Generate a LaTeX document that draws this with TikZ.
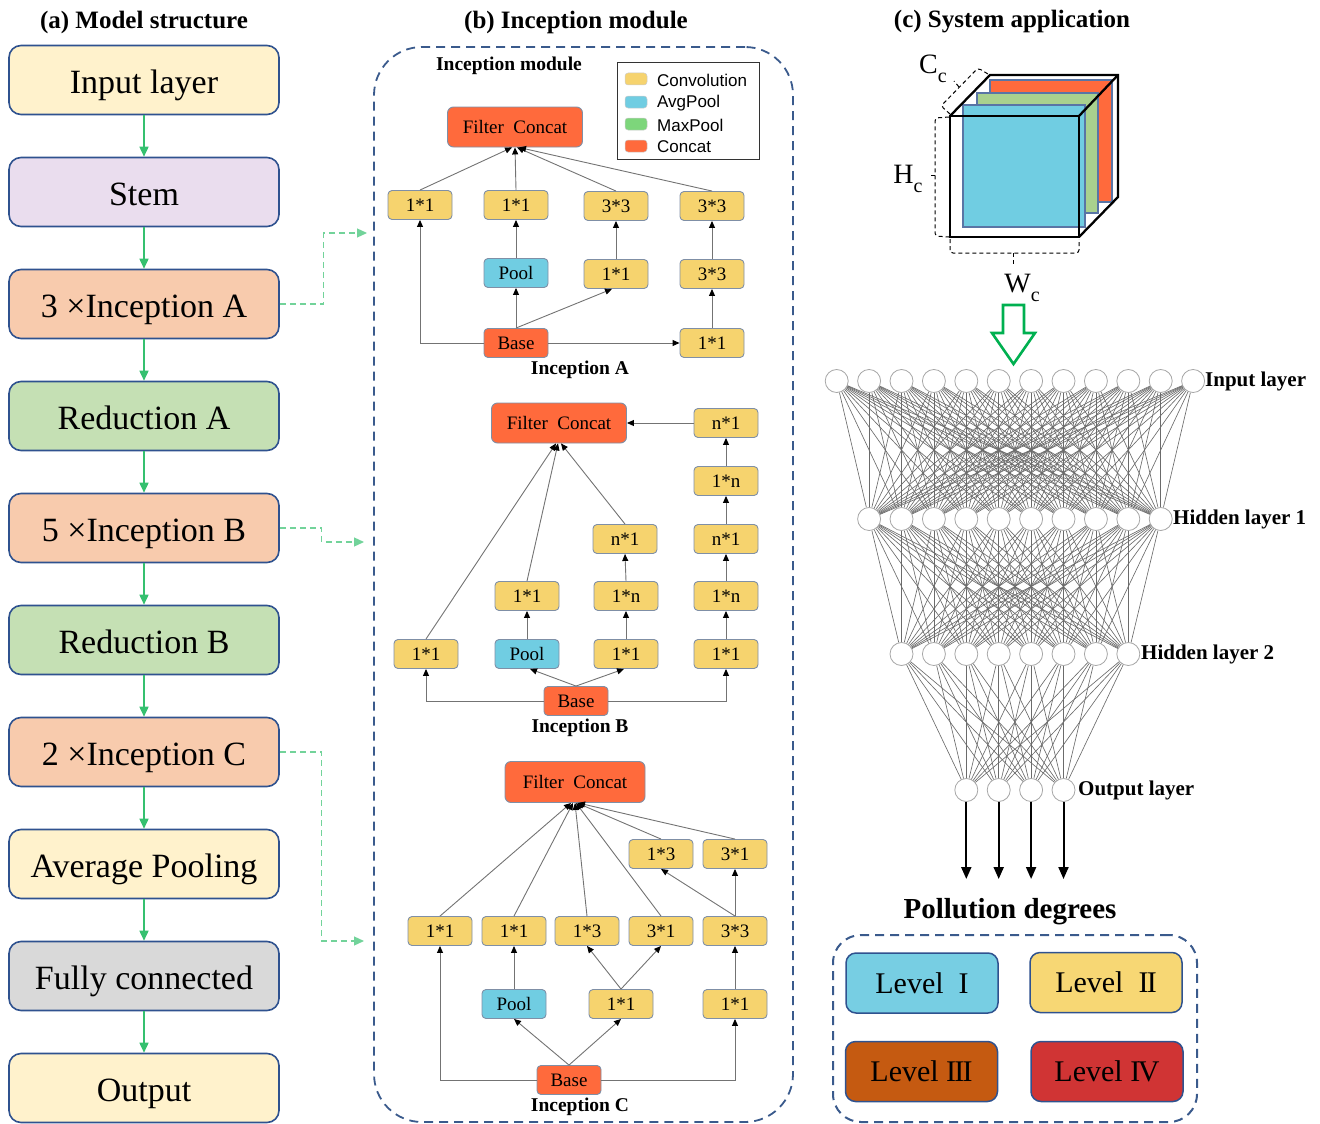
\documentclass[tikz,border=0pt]{standalone}
\usepackage{fontspec}
\setmainfont{Liberation Serif}
\newfontfamily\legfont{Liberation Sans}
\usetikzlibrary{arrows.meta,calc}
\definecolor{bord}{HTML}{2F528F}
\definecolor{inyel}{HTML}{FFF2CC}
\definecolor{stemc}{HTML}{EADDEE}
\definecolor{incpe}{HTML}{F8CBAD}
\definecolor{redg}{HTML}{C5E0B4}
\definecolor{fcgray}{HTML}{D9D9D9}
\definecolor{flowg}{HTML}{35C06F}
\definecolor{dashb}{HTML}{3A5A8C}
\definecolor{convy}{HTML}{F6D36E}
\definecolor{poolb}{HTML}{70CDE2}
\definecolor{concr}{HTML}{FF6A3C}
\definecolor{mbord}{HTML}{7F8FA6}
\definecolor{maxg}{HTML}{7DD67B}
\definecolor{layg}{HTML}{A9D18E}
\definecolor{arrg}{HTML}{00B050}
\definecolor{lv1}{HTML}{77CEE3}
\definecolor{lv2}{HTML}{F7D774}
\definecolor{lv3}{HTML}{C55A11}
\definecolor{lv4}{HTML}{D03434}
\newcommand{\rmtwo}{I\kern-0.06em I}
\newcommand{\rmthree}{I\kern-0.06em I\kern-0.06em I}
\newcommand{\rmfour}{I\kern-0.08em V}
\begin{document}
\begin{tikzpicture}[x=1pt,y=-1pt,
  mainbox/.style={draw=bord, line width=1.6pt, rounded corners=12pt, minimum width=270pt, minimum height=69pt, inner sep=0pt, text height=30pt, text depth=4pt, font=\fontsize{34}{36}\selectfont},
  flow/.style={draw=flowg, line width=1.6pt, -{Triangle[length=10pt,width=9pt]}},
  link/.style={draw=flowg!70, line width=1.2pt, dash pattern=on 6pt off 4pt, -{Triangle[length=10pt,width=9pt]}},
  mb/.style={draw=mbord, line width=0.9pt, rounded corners=4pt, minimum width=64pt, minimum height=29pt, inner sep=0pt, font=\fontsize{19}{20}\selectfont},
  conv/.style={mb, fill=convy},
  pool/.style={mb, fill=poolb},
  cat/.style={mb, fill=concr},
  fcat/.style={cat, minimum width=135pt, minimum height=40pt, rounded corners=6pt, font=\fontsize{19}{20}\selectfont},
  ar/.style={draw=black!55, line width=0.9pt, -{Triangle[length=7pt,width=6pt,color=black]}},
  title/.style={font=\bfseries\fontsize{25}{28}\selectfont},
  sublab/.style={font=\bfseries\fontsize{19.5}{22}\selectfont},
  sw/.style={draw=white!80!black, line width=0.5pt, rounded corners=3pt, minimum width=22pt, minimum height=12pt, inner sep=0pt},
  legt/.style={anchor=west, font=\legfont\fontsize{17}{19}\selectfont, inner sep=0pt},
  neuron/.style={circle, draw=black!35, fill=white, line width=0.8pt, minimum size=23pt, inner sep=0pt},
  syn/.style={draw=black!58, line width=0.65pt},
  nnlab/.style={anchor=west, inner sep=0pt, font=\bfseries\fontsize{21}{23}\selectfont},
  outar/.style={draw=black, line width=2pt, -{Triangle[length=12pt,width=10pt]}},
  lvl/.style={draw=bord, line width=1.5pt, rounded corners=10pt, minimum width=152pt, minimum height=60pt, inner sep=0pt, text height=24pt, text depth=4pt, font=\fontsize{30}{32}\selectfont},
  dbrk/.style={draw=black, line width=1pt, dash pattern=on 4pt off 3pt, rounded corners=3pt},
  cubel/.style={font=\fontsize{28}{30}\selectfont, inner sep=0pt}
]
\useasboundingbox (0,0) rectangle (1320,1124);

% ---------- titles
\node[title] (ta) at (144,22) {(a) Model structure};
\node[title] (tb) at (576,22) {(b) Inception module};
\node[title] (tc) at (1012,22) {(c) System application};

% ---------- (a) left column
\node[mainbox, fill=inyel] (a1) at (144,80) {Input layer};
\node[mainbox, fill=stemc] (a2) at (144,192) {Stem};
\node[mainbox, fill=incpe] (a3) at (144,304) {3 ×Inception A};
\node[mainbox, fill=redg] (a4) at (144,416) {Reduction A};
\node[mainbox, fill=incpe] (a5) at (144,528) {5 ×Inception B};
\node[mainbox, fill=redg] (a6) at (144,640) {Reduction B};
\node[mainbox, fill=incpe] (a7) at (144,752) {2 ×Inception C};
\node[mainbox, fill=inyel] (a8) at (144,864) {Average Pooling};
\node[mainbox, fill=fcgray] (a9) at (144,976) {Fully connected};
\node[mainbox, fill=inyel] (a10) at (144,1088) {Output};
\draw[flow] (a1) -- (a2);
\draw[flow] (a2) -- (a3);
\draw[flow] (a3) -- (a4);
\draw[flow] (a4) -- (a5);
\draw[flow] (a5) -- (a6);
\draw[flow] (a6) -- (a7);
\draw[flow] (a7) -- (a8);
\draw[flow] (a8) -- (a9);
\draw[flow] (a9) -- (a10);

\coordinate (mA) at (367,233);
\coordinate (mB) at (364,542);
\coordinate (mC) at (364,941);
\draw[link] (a3.east) -- ++(44,0) |- (mA);
\draw[link] (a5.east) -- ++(42,0) |- (mB);
\draw[link] (a7.east) -- ++(42,0) |- (mC);

% ---------- (b) module frame
\node[draw=dashb, line width=1.8pt, dash pattern=on 9pt off 6pt, rounded corners=48pt, minimum width=419pt, minimum height=1075pt, inner sep=0pt] (mod) at (583.5,584.5) {};
\node[sublab] (modt) at (509,66) {Inception module};

% legend
\node[draw=black!80, line width=1pt, minimum width=142pt, minimum height=96pt, inner sep=0pt] (leg) at (688,111) {};
\node[sw, fill=convy] (s1) at (636,79) {};
\node[sw, fill=poolb] (s2) at (636,102) {};
\node[sw, fill=maxg] (s3) at (636,124) {};
\node[sw, fill=concr] (s4) at (636,146) {};
\node[legt] (l1) at (657,80) {Convolution};
\node[legt] (l2) at (657,103) {AvgPool};
\node[legt] (l3) at (657,125) {MaxPool};
\node[legt] (l4) at (657,147) {Concat};

% Inception A
\node[fcat] (AFC) at (515,127) {Filter\enspace Concat};
\node[conv] (A11) at (420,205) {1*1};
\node[conv] (A12) at (516,205) {1*1};
\node[conv] (A13) at (616,206) {3*3};
\node[conv] (A14) at (712,206) {3*3};
\node[pool] (Apool) at (516,273) {Pool};
\node[conv] (A22) at (616,274) {1*1};
\node[conv] (A23) at (712,274) {3*3};
\node[cat] (Abase) at (516,343) {Base};
\node[conv] (A31) at (712,343) {1*1};
\node[sublab] (Alab) at (580,370) {Inception A};
\draw[ar] (A11.north) -- ($(AFC.south)+(-3,0)$);
\draw[ar] (A12.north) -- ($(AFC.south)+(0,0)$);
\draw[ar] (A13.north) -- ($(AFC.south)+(2,0)$);
\draw[ar] (A14.north) -- ($(AFC.south)+(4,0)$);
\draw[ar] (Abase.west) -| (A11.south);
\draw[ar] (Abase.north) -- (Apool.south);
\draw[ar] (Abase.north) -- ($(A22.south)+(-4,0)$);
\draw[ar] (Abase.east) -- (A31.west);
\draw[ar] (Apool.north) -- (A12.south);
\draw[ar] (A22.north) -- (A13.south);
\draw[ar] (A31.north) -- (A23.south);
\draw[ar] (A23.north) -- (A14.south);

% Inception B
\node[fcat] (BFC) at (559,423) {Filter\enspace Concat};
\node[conv] (Bt) at (726,423) {n*1};
\node[conv] (B2) at (726,481) {1*n};
\node[conv] (B3r) at (726,539) {n*1};
\node[conv] (B3m) at (625,539) {n*1};
\node[conv] (B4l) at (527,596) {1*1};
\node[conv] (B4m) at (626,596) {1*n};
\node[conv] (B4r) at (726,596) {1*n};
\node[conv] (B5a) at (426,654) {1*1};
\node[pool] (B5p) at (527,654) {Pool};
\node[conv] (B5m) at (626,654) {1*1};
\node[conv] (B5r) at (726,654) {1*1};
\node[cat] (Bbase) at (576,701) {Base};
\node[sublab] (Blab) at (580,728) {Inception B};
\draw[ar] (Bt.west) -- (BFC.east);
\draw[ar] (B2.north) -- (Bt.south);
\draw[ar] (B3r.north) -- (B2.south);
\draw[ar] (B4r.north) -- (B3r.south);
\draw[ar] (B5r.north) -- (B4r.south);
\draw[ar] (B4m.north) -- (B3m.south);
\draw[ar] (B5m.north) -- (B4m.south);
\draw[ar] (B5p.north) -- (B4l.south);
\draw[ar] (B5a.north) -- ($(BFC.south)+(-3,0)$);
\draw[ar] (B4l.north) -- ($(BFC.south)+(-1,0)$);
\draw[ar] (B3m.north) -- ($(BFC.south)+(2,0)$);
\draw[ar] (Bbase.west) -| (B5a.south);
\draw[ar] (Bbase.north) -- ($(B5p.south)+(3,0)$);
\draw[ar] (Bbase.north) -- ($(B5m.south)+(-2,0)$);
\draw[ar] (Bbase.east) -| (B5r.south);

% Inception C
\node[fcat, minimum width=140pt, minimum height=41pt] (CFC) at (575,782) {Filter\enspace Concat};
\node[conv] (C1a) at (661,854) {1*3};
\node[conv] (C1b) at (735,854) {3*1};
\node[conv] (C2a) at (440,931) {1*1};
\node[conv] (C2b) at (514,931) {1*1};
\node[conv] (C2c) at (587,931) {1*3};
\node[conv] (C2d) at (661,931) {3*1};
\node[conv] (C2e) at (735,931) {3*3};
\node[pool] (C3a) at (514,1004) {Pool};
\node[conv] (C3b) at (621,1004) {1*1};
\node[conv] (C3c) at (735,1004) {1*1};
\node[cat] (Cbase) at (569,1080) {Base};
\node[sublab] (Clab) at (580,1107) {Inception C};
\draw[ar] (C2a.north) -- ($(CFC.south)+(-4,0)$);
\draw[ar] (C2b.north) -- ($(CFC.south)+(-2,0)$);
\draw[ar] (C2c.north) -- ($(CFC.south)+(0,0)$);
\draw[ar] (C2d.north) -- ($(CFC.south)+(1,0)$);
\draw[ar] (C1a.north) -- ($(CFC.south)+(2,0)$);
\draw[ar] (C1b.north) -- ($(CFC.south)+(3,0)$);
\draw[ar] (Cbase.west) -| (C2a.south);
\draw[ar] (Cbase.north) -- (C3a.south);
\draw[ar] (Cbase.north) -- (C3b.south);
\draw[ar] (Cbase.east) -| (C3c.south);
\draw[ar] (C3a.north) -- (C2b.south);
\draw[ar] (C3b.north) -- (C2c.south);
\draw[ar] (C3b.north) -- (C2d.south);
\draw[ar] (C3c.north) -- (C2e.south);
\draw[ar] (C2e.north) -- (C1a.south);
\draw[ar] (C2e.north) -- (C1b.south);

% ---------- (c) cube
\draw[draw=bord!80, line width=1.2pt, fill=concr] (990,80) rectangle (1112,202);
\draw[draw=bord!80, line width=1.2pt, fill=layg] (977,93) rectangle (1098,213);
\draw[draw=bord!80, line width=1.2pt, fill=poolb] (963,105) rectangle (1085,227);
\draw[line width=2.3pt, line join=miter] (950,116) rectangle (1079,237);
\draw[line width=2.3pt, line join=miter] (950,116) -- (990,75) -- (1118,75) -- (1118,197) -- (1079,237);
\draw[line width=2.3pt] (1079,116) -- (1118,75);
% brackets
\draw[dbrk] (950,114) -- (941,106) -- (978,68) -- (988,74);
\draw[dbrk] (959,87) -- (954,81);
\draw[dbrk] (949,117) -- (935,118) -- (935,236) -- (949,237);
\draw[dbrk] (935,175) -- (929,175);
\draw[dbrk] (950,239) -- (950,253) -- (1079,253) -- (1079,239);
\draw[dbrk] (1013,253) -- (1013,266);
\node[cubel] (Cc) at (933,69) {C\raisebox{-0.3em}{\fontsize{20}{20}\selectfont c}};
\node[cubel] (Hc) at (908,179) {H\raisebox{-0.3em}{\fontsize{20}{20}\selectfont c}};
\node[cubel] (Wc) at (1022,288) {W\raisebox{-0.3em}{\fontsize{20}{20}\selectfont c}};
% hollow arrow
\draw[draw=arrg, line width=2.6pt, line join=miter] (1003,305) -- (1024,305) -- (1024,333) -- (1035,333) -- (1013.5,364) -- (992,333) -- (1003,333) -- cycle;

% ---------- neural network
\foreach \k in {0,...,11} \node[neuron] (in\k) at ({836.7+32.4*\k},381) {};
\foreach \k in {1,...,10} \node[neuron] (ha\k) at ({836.7+32.4*\k},519) {};
\foreach \k in {2,...,9} \node[neuron] (hb\k) at ({836.7+32.4*\k},654) {};
\foreach \k in {4,...,7} \node[neuron] (ou\k) at ({836.7+32.4*\k},790) {};
\foreach \a in {0,...,11} \foreach \b in {1,...,10} \draw[syn] (in\a) -- (ha\b);
\foreach \a in {1,...,10} \foreach \b in {2,...,9} \draw[syn] (ha\a) -- (hb\b);
\foreach \a in {2,...,9} \foreach \b in {4,...,7} \draw[syn] (hb\a) -- (ou\b);
\foreach \k in {4,...,7} {
  \coordinate (oe\k) at ({836.7+32.4*\k},879);
  \draw[outar] (ou\k) -- (oe\k);
}
\node[nnlab] (nl1) at (1205,381) {Input layer};
\node[nnlab] (nl2) at (1173,519) {Hidden layer 1};
\node[nnlab] (nl3) at (1141,654) {Hidden layer 2};
\node[nnlab] (nl4) at (1078,790) {Output layer};

% ---------- pollution degrees
\node[font=\bfseries\fontsize{29}{32}\selectfont] (pd) at (1010,912) {Pollution degrees};
\node[draw=dashb, line width=2pt, dash pattern=on 9pt off 6pt, rounded corners=28pt, minimum width=364pt, minimum height=187pt, inner sep=0pt] (pbox) at (1015,1028.5) {};
\node[lvl, fill=lv1] (L1) at (922,983) {Level\ \ I};
\node[lvl, fill=lv2] (L2) at (1106,982.5) {Level\ \ \rmtwo};
\node[lvl, fill=lv3] (L3) at (921.5,1071.5) {Level \rmthree};
\node[lvl, fill=lv4] (L4) at (1107,1071.5) {Level \rmfour};
\end{tikzpicture}
\end{document}
